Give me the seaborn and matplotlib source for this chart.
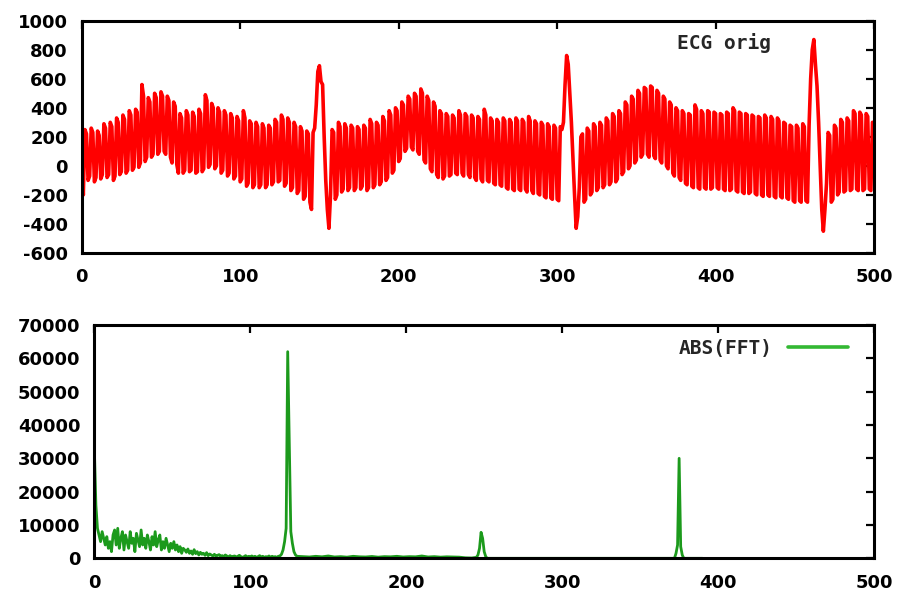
import matplotlib
matplotlib.use("Agg")
import matplotlib.pyplot as plt
import numpy as np
import pandas as pd
import seaborn as sns

# ECG samples (one value per sample, 0..499)
ecg_orig = [
    100, -200, 250, 220, -100, -70, 260, 230, -110, -80, 240, 210, -90, -60, 290, 260, -80, -60, 300, 270,
    -100, -70, 330, 300, -60, -40, 350, 320, -50, -30, 380, 350, -30, -10, 390, 370, -10, 20, 560, 480,
    30, 60, 470, 440, 60, 80, 500, 470, 80, 100, 510, 480, 100, 80, 480, 450, 60, 20, 440, 410,
    10, -50, 360, 330, -50, -30, 380, 350, -40, -30, 370, 340, -50, -40, 390, 360, -40, -20, 490, 450,
    -10, 10, 430, 400, -20, 0, 400, 370, -50, -30, 380, 350, -70, -50, 360, 330, -90, -70, 340, 310,
    -110, -90, 380, 330, -140, -120, 310, 290, -150, -130, 300, 270, -150, -130, 290, 260, -150, -130, 280, 260,
    -130, -110, 320, 300, -110, -100, 350, 320, -140, -120, 330, 300, -170, -150, 300, 270, -190, -170, 270, 240,
    -230, -210, 240, 220, -250, -300, 230, 260, 420, 650, 690, 580, 560, 200, -100, -300, -430, -200, 250, 230,
    -230, -200, 300, 270, -180, -160, 290, 260, -170, -150, 280, 260, -170, -150, 270, 250, -160, -140, 280, 260,
    -170, -150, 320, 290, -150, -130, 300, 280, -130, -110, 340, 310, -100, -80, 380, 350, -50, -30, 400, 380,
    30, 50, 440, 420, 100, 120, 480, 460, 130, 110, 500, 480, 100, 80, 530, 500, 40, 20, 480, 450,
    -20, -40, 440, 410, -60, -80, 380, 360, -90, -70, 360, 340, -70, -60, 350, 330, -50, -60, 380, 350,
    -50, -70, 360, 340, -60, -80, 350, 330, -80, -100, 340, 320, -90, -110, 390, 350, -100, -110, 330, 310,
    -120, -130, 320, 300, -130, -140, 330, 310, -150, -160, 320, 300, -160, -170, 330, 310, -160, -170, 320, 300,
    -160, -180, 340, 310, -170, -190, 310, 290, -190, -200, 300, 280, -210, -220, 290, 270, -220, -230, 280, 260,
    -230, -240, 270, 250, 300, 560, 760, 700, 500, 300, 50, -200, -430, -350, -150, 200, 220, -250, -230, 260,
    240, -200, -180, 290, 270, -170, -150, 300, 280, -150, -130, 330, 310, -130, -110, 360, 340, -110, -90, 380,
    360, -60, -40, 440, 420, -20, 0, 480, 460, 20, 40, 520, 500, 60, 80, 540, 530, 80, 60, 550,
    540, 70, 50, 520, 500, 40, 20, 480, 460, 0, -20, 440, 420, -50, -70, 400, 380, -80, -100, 380,
    360, -120, -130, 360, 350, -140, -150, 420, 390, -150, -160, 380, 360, -150, -160, 380, 370, -160, -150, 370,
    360, -150, -160, 360, 350, -160, -170, 370, 360, -170, -160, 400, 380, -170, -180, 370, 360, -180, -190, 360,
    350, -190, -180, 350, 340, -190, -200, 340, 330, -200, -210, 350, 330, -200, -210, 340, 320, -210, -220, 330,
    310, -210, -220, 300, 290, -220, -230, 280, 270, -240, -250, 280, 260, -240, -250, 290, 270, -240, -250, 280,
    600, 800, 870, 700, 550, 300, 0, -300, -450, -300, -120, 230, 210, -250, -230, 280, 260, -200, -180, 320,
    300, -180, -170, 330, 310, -170, -160, 380, 360, -160, -170, 370, 350, -170, -160, 360, 340, -160, -170, 300,
]

# |FFT|
fft_bin = (list(range(0, 131)) + list(range(134, 235, 4))
           + [238, 242, 245, 246, 247, 248, 249, 250, 251, 252, 300,
              372, 373, 374, 375, 376, 377, 378, 390])
fft_mag = [
    33000, 16000, 9000, 7000, 5000, 8000, 6000, 4000, 6500, 3000,
    5000, 2000, 7000, 8500, 4000, 9000, 3000, 6000, 8000, 2500,
    7000, 5000, 3000, 8000, 4500, 6000, 2000, 7500, 5500, 3500,
    8500, 4000, 6000, 3000, 7000, 5000, 2500, 6500, 4000, 8000,
    3500, 5500, 7000, 2500, 5000, 3000, 6000, 4000, 2000, 4500,
    3000, 5000, 2500, 4000, 2000, 3500, 1500, 3000, 2500, 1800,
    2800, 1500, 2200, 1200, 2600, 1400, 2000, 1000, 1800, 1200,
    1500, 900, 1700, 800, 1300, 1000, 700, 1200, 600, 900,
    1100, 600, 800, 500, 1000, 700, 400, 800, 500, 600,
    700, 400, 600, 900, 500, 300, 500, 800, 400, 600,
    500, 700, 400, 600, 300, 500, 800, 400, 600, 300,
    500, 400, 700, 300, 600, 400, 500, 300, 600, 700,
    1200, 2500, 5000, 9000, 62000, 35000, 8000, 4500, 2000, 1000, 600,
    500, 400, 600, 450, 700, 400, 500, 350, 600, 450,
    400, 550, 350, 500, 450, 600, 400, 500, 450, 700,
    400, 500, 350, 450, 400, 350,
    150, 100, 300, 1000, 3000, 7800, 6000, 2000, 500, 0, 0,
    0, 1500, 4000, 30000, 3500, 1000, 0, 0,
]

ecg_df = pd.DataFrame({"n": np.arange(len(ecg_orig)), "ecg": ecg_orig})
fft_df = pd.DataFrame({"n": fft_bin, "mag": fft_mag})

sns.set_style("white")
plt.rcParams["font.family"] = ["DejaVu Sans"]
plt.rcParams["font.weight"] = "bold"
plt.rcParams["axes.unicode_minus"] = False

fig = plt.figure(figsize=(9.01, 5.93), dpi=100)
ax1 = fig.add_axes([0.0907, 0.5734, 0.8794, 0.3917])
ax2 = fig.add_axes([0.1047, 0.0585, 0.8654, 0.3934])

sns.lineplot(data=ecg_df, x="n", y="ecg", ax=ax1, color="#ff0000", linewidth=2.6)
sns.lineplot(data=fft_df, x="n", y="mag", ax=ax2, color="#1c9a1c", linewidth=2.0,
             label="ABS(FFT)")

ax1.set_xlim(0, 500)
ax1.set_ylim(-600, 1000)
ax1.set_xticks(range(0, 501, 100))
ax1.set_yticks(range(-600, 1001, 200))

ax2.set_xlim(0, 500)
ax2.set_ylim(0, 70000)
ax2.set_xticks(range(0, 501, 100))
ax2.set_yticks(range(0, 70001, 10000))

for ax in (ax1, ax2):
    ax.set_xlabel("")
    ax.set_ylabel("")
    for sp in ax.spines.values():
        sp.set_visible(True)
        sp.set_color("black")
        sp.set_linewidth(2.2)
    ax.tick_params(direction="in", length=6, width=1.6, top=True, right=True,
                   labelsize=13, colors="black")
    ax.tick_params(axis="y", pad=10)
    ax.tick_params(axis="x", pad=11)

ax1.text(0.751, 0.904, "ECG orig", transform=ax1.transAxes, ha="left", va="center",
         family="DejaVu Sans Mono", fontsize=14, fontweight="bold")

leg = ax2.legend(loc="upper right", bbox_to_anchor=(0.9666, 0.94), frameon=False,
                 markerfirst=False, borderpad=0, borderaxespad=0, handlelength=3.1,
                 handletextpad=0.75, prop={"family": "DejaVu Sans Mono", "size": 14,
                                           "weight": "bold"})
for line in leg.get_lines():
    line.set_linewidth(2.6)
    line.set_color("#33b833")

fig.savefig("out.png", dpi=100)
